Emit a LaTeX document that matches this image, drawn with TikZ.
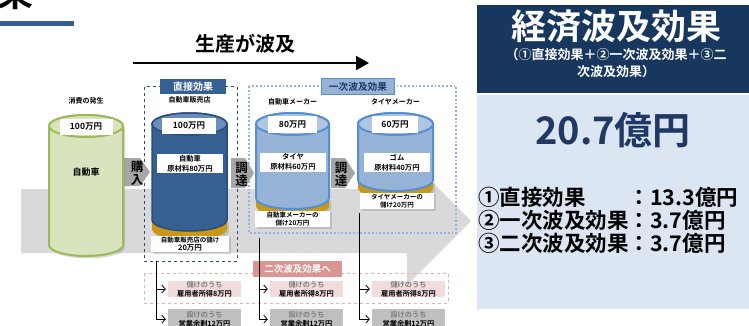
\documentclass[tikz,border=0pt]{standalone}
\usepackage{fontspec}
\setmainfont{Noto Sans CJK JP}[BoldFont={Noto Sans CJK JP Bold}]
\usetikzlibrary{arrows.meta}
\usetikzlibrary{shadows}

\definecolor{flowgrey}{HTML}{D9D9D9}
\definecolor{arrowgrey}{HTML}{A6A6A6}
\definecolor{barblue}{HTML}{365F91}
\definecolor{gfill}{HTML}{D7E4BD}
\definecolor{gline}{HTML}{9BBB59}
\definecolor{dfill}{HTML}{376092}
\definecolor{dline}{HTML}{2A4D7A}
\definecolor{dtop}{HTML}{6B8CBC}
\definecolor{lfill}{HTML}{95B3D7}
\definecolor{lline}{HTML}{558ED5}
\definecolor{ltop}{HTML}{B0C6E2}
\definecolor{goldband}{HTML}{C99815}
\definecolor{dotblue}{HTML}{8EB4E3}
\definecolor{redline}{HTML}{E6B0AF}
\definecolor{redhdr}{HTML}{D99694}
\definecolor{pinkfill}{HTML}{F2DCDB}
\definecolor{boxgrey}{HTML}{BFBFBF}
\definecolor{txtgrey}{HTML}{7F7F7F}
\definecolor{navy}{HTML}{17375E}
\definecolor{navytext}{HTML}{1F3864}
\definecolor{panel}{HTML}{DCE6F2}

\tikzset{
  toplbl/.style={font=\fontsize{7}{8}\selectfont\bfseries, inner sep=0},
  amountbox/.style={fill=white, font=\fontsize{8.5}{9}\selectfont\bfseries, minimum height=16pt, inner sep=1pt},
  matbox/.style={fill=white, align=center, font=\fontsize{7.3}{10}\selectfont\bfseries, minimum height=19pt, inner sep=1pt},
  profitbox/.style={fill=white, align=center, font=\fontsize{6.5}{8.5}\selectfont\bfseries, inner sep=1pt,
    drop shadow={opacity=0.3, shadow xshift=1.5pt, shadow yshift=-1.5pt}},
  pinkbox/.style={fill=pinkfill, align=center, font=\fontsize{7.2}{8.6}\selectfont\bfseries, minimum width=73pt, minimum height=16pt, inner sep=0.3pt},
  greybox/.style={fill=boxgrey, align=center, font=\fontsize{7.2}{8.6}\selectfont\bfseries, minimum width=73pt, minimum height=20pt, inner sep=0.3pt},
  vlabel/.style={font=\fontsize{12.5}{13}\selectfont\bfseries, align=center, inner sep=0},
  minibar/.style={fill=arrowgrey},
  cylshadow/.style={drop shadow={opacity=0.3, shadow xshift=2pt, shadow yshift=-2.5pt}},
  branch/.style={line width=0.8pt, -{Straight Barb[length=3.5pt,width=8pt]}, shorten >=2pt}
}

\begin{document}
\begin{tikzpicture}[x=1pt, y=-1pt]
\useasboundingbox (0,0) rectangle (749,326);
\clip (0,0) rectangle (749,326);

% big grey flow arrow
\fill[flowgrey] (21,189) -- (407,189) -- (407,157) -- (471,221) -- (407,285) -- (407,253) -- (21,253) -- cycle;

% title remains
\node[font=\fontsize{36}{36}\selectfont\bfseries, anchor=base, inner sep=0] (ttl) at (16,7) {果};
\fill[barblue] (0,21) rectangle (74,26);

% production flow
\node[font=\fontsize{20}{20}\selectfont\bfseries, inner sep=0] (flow) at (245,44) {生産が波及};
\coordinate (flowL) at (133,63);
\coordinate (flowR) at (369,63);
\draw[line width=2.2pt, -{Triangle[length=13pt,width=14pt]}] (flowL) -- (flowR);

% boxes of effects
\draw[dline, dashed, line width=1pt] (144,87) rectangle (237,261);
\node[fill=dfill, text=white, font=\fontsize{10}{10}\selectfont\bfseries, minimum width=66pt, minimum height=15pt, inner sep=0] (direct) at (193,86.5) {直接効果};
\draw[dotblue, dotted, line width=1.8pt] (249,86) rectangle (456,233);
\node[fill=lfill, draw=lline, line width=1.2pt, text=navytext, font=\fontsize{9.7}{10}\selectfont\bfseries, minimum width=73pt, minimum height=16pt, inner sep=0] (first) at (358,86.5) {一次波及効果};

% small arrows
\fill[minibar] (124,158) -- (140,158) -- (150,172) -- (140,186) -- (124,186) -- cycle;
\fill[minibar] (231,158) -- (245,158) -- (254,173) -- (245,188) -- (231,188) -- cycle;
\fill[minibar] (331,158) -- (345,158) -- (355,173) -- (345,188) -- (331,188) -- cycle;
\node[vlabel] (buy) at (137,173) {購\\入};
\node[vlabel] (proc1) at (241.5,174.5) {調\\達};
\node[vlabel] (proc2) at (341,174.5) {調\\達};

% consumption cylinder
\draw[gline, line width=2pt, fill=gfill, cylshadow] (49,126) -- (49,245) arc[start angle=180, end angle=0, x radius=37, y radius=11]
  -- (123,126) arc[start angle=0, end angle=-180, x radius=37, y radius=11] -- cycle;
\draw[gline, line width=2pt, fill=gfill] (86,126) ellipse[x radius=37, y radius=11];
\node[toplbl] (cons) at (86,101) {消費の発生};
\node[amountbox, minimum width=53pt] (cons100) at (86,127) {100万円};
\node[font=\fontsize{9}{9}\selectfont\bfseries, inner sep=0] (car) at (86,172) {自動車};

% dealer cylinder
\fill[goldband, cylshadow] (152,220) -- (152,229) arc[start angle=180, end angle=0, x radius=37.5, y radius=11] -- (227,220) -- cycle;
\draw[dline, line width=1.5pt, fill=dfill] (152,124) -- (152,220) arc[start angle=180, end angle=0, x radius=37.5, y radius=11]
  -- (227,124) arc[start angle=0, end angle=-180, x radius=37.5, y radius=11] -- cycle;
\draw[dline, line width=1.5pt, fill=dtop] (189.5,124) ellipse[x radius=37.5, y radius=11];
\node[toplbl] (dealer) at (189.5,100) {自動車販売店};
\node[amountbox, minimum width=54pt] (deal100) at (189,126) {100万円};
\node[matbox, minimum width=66pt] (dealmat) at (190,163.5) {自動車\\原材料80万円};
\node[profitbox, minimum width=78pt] (dealprof) at (190,244) {自動車販売店の儲け\\{\fontsize{7.5}{8}\selectfont 20万円}};

% maker cylinder
\fill[goldband, cylshadow] (256,198) -- (256,206) arc[start angle=180, end angle=0, x radius=36.5, y radius=11] -- (329,198) -- cycle;
\draw[lline, line width=2pt, fill=lfill] (256,124) -- (256,198) arc[start angle=180, end angle=0, x radius=36.5, y radius=11]
  -- (329,124) arc[start angle=0, end angle=-180, x radius=36.5, y radius=11] -- cycle;
\draw[lline, line width=2pt, fill=ltop] (292.5,124) ellipse[x radius=36.5, y radius=11];
\node[toplbl] (maker) at (292.5,102) {自動車メーカー};
\node[amountbox, minimum width=49pt] (make80) at (292.5,124.5) {80万円};
\node[matbox, minimum width=66pt] (makemat) at (293,162) {タイヤ\\原材料60万円};
\node[profitbox, minimum width=75pt] (makeprof) at (292.5,219) {自動車メーカーの\\儲け20万円};

% tyre cylinder
\fill[goldband, cylshadow] (358,180) -- (358,188) arc[start angle=180, end angle=0, x radius=37.5, y radius=11] -- (433,180) -- cycle;
\draw[lline, line width=2pt, fill=lfill] (358,124) -- (358,180) arc[start angle=180, end angle=0, x radius=37.5, y radius=11]
  -- (433,124) arc[start angle=0, end angle=-180, x radius=37.5, y radius=11] -- cycle;
\draw[lline, line width=2pt, fill=ltop] (395.5,124) ellipse[x radius=37.5, y radius=11];
\node[toplbl] (tyre) at (395.5,102) {タイヤメーカー};
\node[amountbox, minimum width=46pt] (tyre60) at (395,124.5) {60万円};
\node[matbox, minimum width=66pt] (tyremat) at (397,162.5) {ゴム\\原材料40万円};
\node[profitbox, minimum width=74pt] (tyreprof) at (397,201) {タイヤメーカーの\\儲け20万円};

% secondary effects
\draw[redline, dashed, line width=1pt] (144,273) rectangle (448,303);
\node[fill=redhdr, text=white, font=\fontsize{9.5}{10}\selectfont\bfseries, minimum width=89pt, minimum height=16pt, inner sep=0] (second) at (297.5,269) {二次波及効果へ};

\node[pinkbox] (pk1) at (204.5,289) {\textcolor{txtgrey}{儲けのうち}\\雇用者所得8万円};
\node[pinkbox] (pk2) at (306.5,289) {\textcolor{txtgrey}{儲けのうち}\\雇用者所得8万円};
\node[pinkbox] (pk3) at (408.5,289) {\textcolor{txtgrey}{儲けのうち}\\雇用者所得8万円};
\node[greybox, anchor=north] (gy1) at (204.5,309) {\textcolor{txtgrey}{設けのうち}\\営業余剰12万円};
\node[greybox, anchor=north] (gy2) at (306.5,309) {\textcolor{txtgrey}{設けのうち}\\営業余剰12万円};
\node[greybox, anchor=north] (gy3) at (408.5,309) {\textcolor{txtgrey}{設けのうち}\\営業余剰12万円};

\coordinate (d1) at (156,261);
\coordinate (d2) at (259,238);
\coordinate (d3) at (359,213);
\draw[branch] (d1) |- (pk1.west);
\draw[branch] (d1) |- (gy1.west);
\draw[branch] (d2) |- (pk2.west);
\draw[branch] (d2) |- (gy2.west);
\draw[branch] (d3) |- (pk3.west);
\draw[branch] (d3) |- (gy3.west);

% result panel
\fill[navy] (477,5) rectangle (749,93);
\fill[panel] (477,95) rectangle (749,309);
\node[text=white, font=\fontsize{35}{35}\selectfont\bfseries, inner sep=0] (econ) at (616,26) {経済波及効果};
\node[text=white, align=center, font=\fontsize{13}{17}\selectfont\bfseries, inner sep=0] (sum) at (616,63.5) {（①直接効果＋②一次波及効果＋③二\\次波及効果）};
\node[text=navytext, font=\fontsize{38}{38}\selectfont\bfseries, inner sep=0] (total) at (613,130) {20.7億円};
\node[anchor=west, align=left, font=\fontsize{21.5}{23}\selectfont\bfseries, inner sep=0] (list) at (478,220)
  {①直接効果\hphantom{波及}：13.3億円\\②一次波及効果：3.7億円\\③二次波及効果：3.7億円};

\end{tikzpicture}
\end{document}
